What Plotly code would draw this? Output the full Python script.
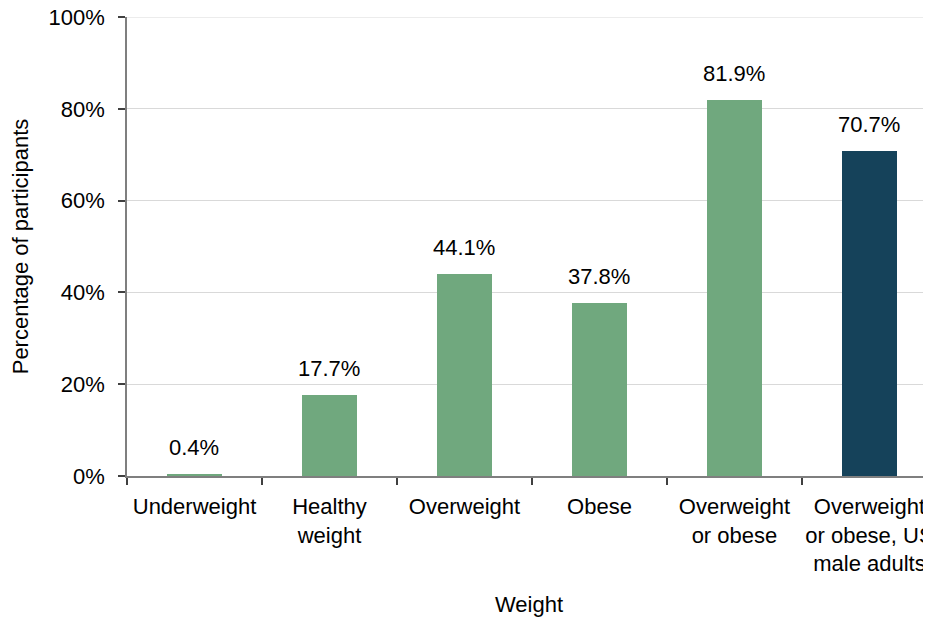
import plotly.graph_objects as go

categories = ["Underweight", "Healthy<br>weight", "Overweight", "Obese",
              "Overweight<br>or obese", "Overweight<br>or obese, US<br>male adults"]
values = [0.4, 17.7, 44.1, 37.8, 81.9, 70.7]
colors = ["#70a87e"] * 5 + ["#15425a"]
y_ticks = [0, 20, 40, 60, 80, 100]
y_tick_labels = [f"{v}%" for v in y_ticks]

FONT = "Liberation Sans, Arial, sans-serif"
FS = 22

fig = go.Figure()
fig.add_trace(go.Bar(
    x=categories, y=values, marker_color=colors,
    marker_line_width=0, width=0.41,
))

for c, v in zip(categories, values):
    fig.add_annotation(x=c, y=v, text=f"{v}%", showarrow=False,
                       yanchor="bottom", yshift=12,
                       font=dict(family=FONT, size=FS, color="#000000"))

fig.update_layout(
    width=923, height=609,
    margin=dict(l=119, r=0, t=9, b=141),
    paper_bgcolor="white", plot_bgcolor="white",
    showlegend=False,
    font=dict(family=FONT, size=FS, color="#000000"),
    bargap=0,
)
fig.update_xaxes(
    type="category",
    range=[-0.5, 5.456], automargin=False,
    tickson="boundaries", ticklabeloverflow="allow", ticklabelstandoff=10,
    showline=True, linecolor="#7f7f7f", linewidth=1.5,
    ticks="outside", ticklen=7, tickcolor="#404040", tickwidth=1.5,
    showgrid=False, zeroline=False,
    title=dict(text="Weight", font=dict(size=FS), standoff=21),
    tickfont=dict(size=FS),
)
fig.update_yaxes(
    range=[0, 100], tickvals=y_ticks, ticktext=y_tick_labels, automargin=False,
    ticklabelstandoff=9, ticklabeloverflow="allow",
    showline=True, linecolor="#7f7f7f", linewidth=1.5,
    ticks="outside", ticklen=7, tickcolor="#404040", tickwidth=1.5,
    showgrid=True, gridcolor="#d9d9d9", gridwidth=1, zeroline=False,
    title=dict(text="Percentage of participants", font=dict(size=FS), standoff=17),
    tickfont=dict(size=FS),
)
fig.add_hline(y=100, line_color="#d9d9d9", line_width=1, layer="below")

fig.write_html("out.html")
